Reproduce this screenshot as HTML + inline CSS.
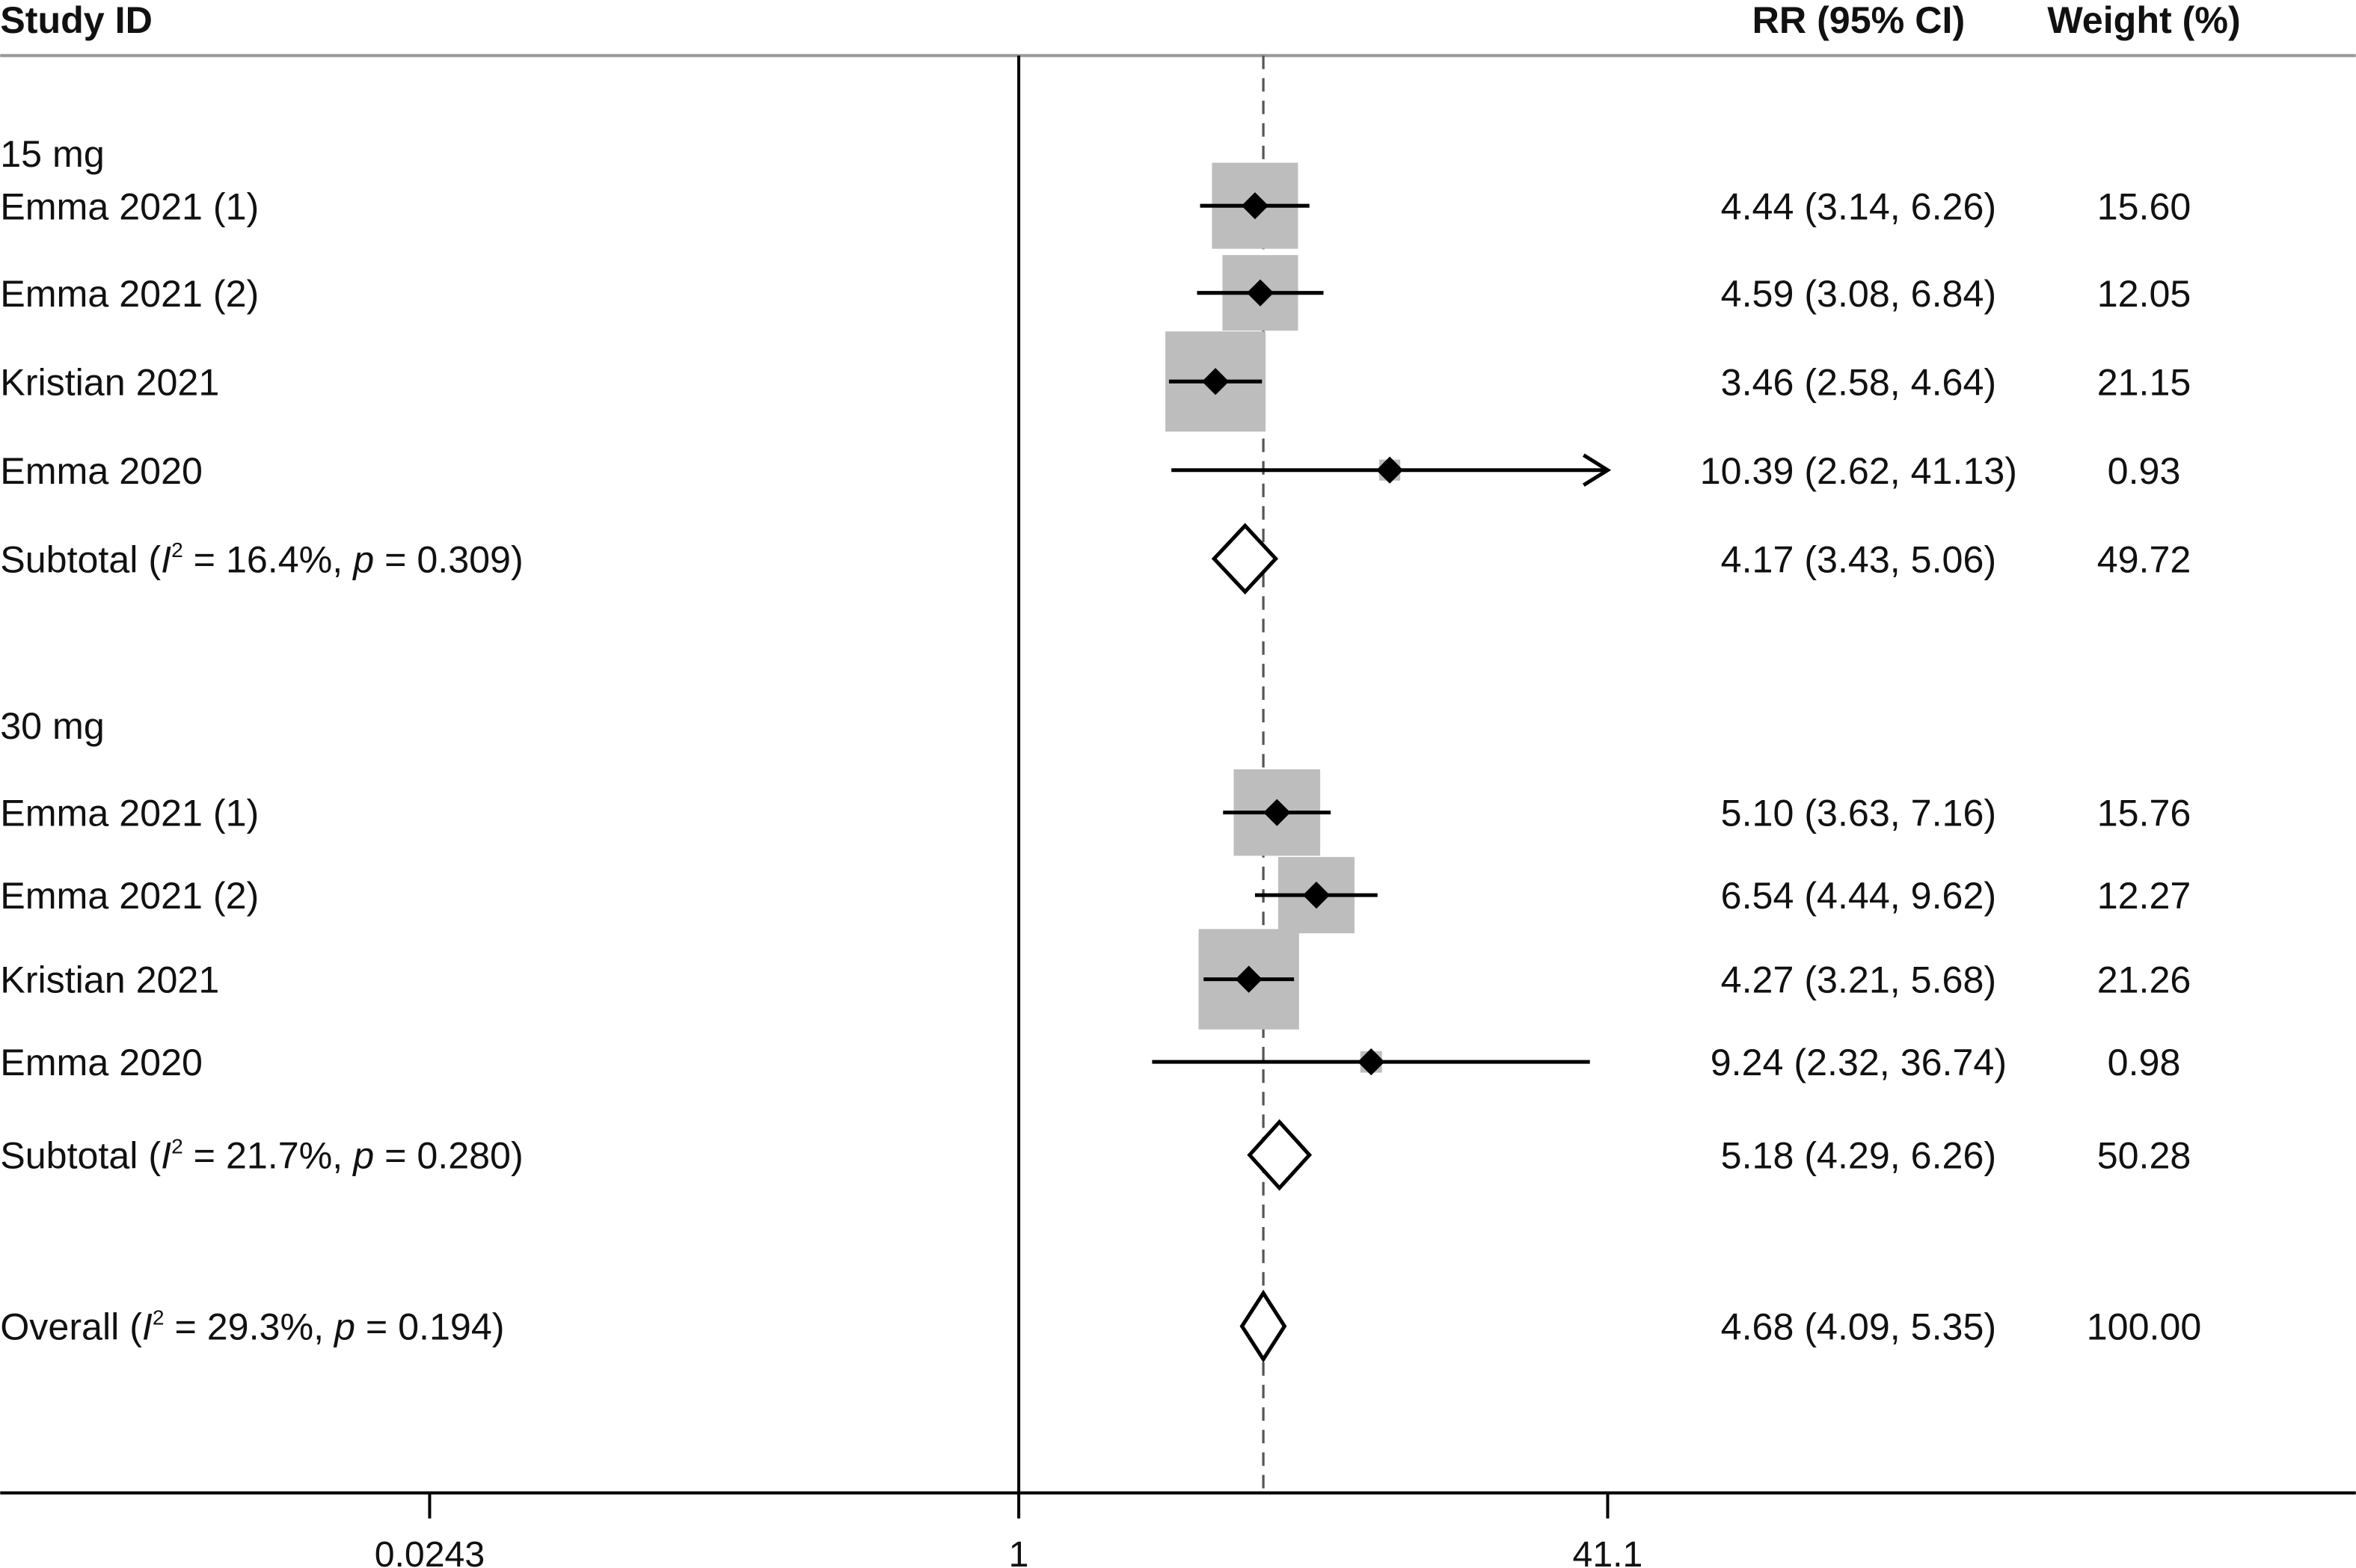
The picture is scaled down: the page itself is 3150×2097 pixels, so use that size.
<!DOCTYPE html>
<html><head><meta charset="utf-8"><style>
html,body{margin:0;padding:0;background:#fff;}
svg{display:block;font-family:"Liberation Sans","DejaVu Sans",sans-serif;}
</style></head><body>
<svg id="chart" width="3150" height="2097" viewBox="0 0 1568 1044" xmlns="http://www.w3.org/2000/svg">
<rect width="1568" height="1044" fill="#fff"/>
<text x="0" y="22" font-size="25" font-weight="bold" fill="#111">Study ID</text>
<text x="1237" y="22" font-size="25" font-weight="bold" text-anchor="middle" fill="#111">RR (95% CI)</text>
<text x="1427" y="22" font-size="25" font-weight="bold" text-anchor="middle" fill="#111">Weight (%)</text>
<line x1="0" y1="37" x2="1568" y2="37" stroke="#999" stroke-width="2"/>
<g id="marks"></g>
<g id="labels"></g>
</svg>
<script>
const labels = ["15 mg","Emma 2021 (1)","Emma 2021 (2)","Kristian 2021","Emma 2020","Subtotal 15","30 mg","Emma 2021 (1)","Emma 2021 (2)","Kristian 2021","Emma 2020","Subtotal 30","Overall"];
const kinds = ["group","study","study","study","study","sub","group","study","study","study","study","sub","sub"];
const rowY = [102,137,195,254,313,372,483,541,596,652,707,769,883];
const rr = [null,4.44,4.59,3.46,10.39,4.17,null,5.10,6.54,4.27,9.24,5.18,4.68];
const lo = [null,3.14,3.08,2.58,2.62,3.43,null,3.63,4.44,3.21,2.32,4.29,4.09];
const hi = [null,6.26,6.84,4.64,41.13,5.06,null,7.16,9.62,5.68,36.74,6.26,5.35];
const weights = [null,15.60,12.05,21.15,0.93,49.72,null,15.76,12.27,21.26,0.98,50.28,100.00];
const stats = [null,null,null,null,null,["16.4%","0.309"],null,null,null,null,null,["21.7%","0.280"],["29.3%","0.194"]];
const tickVals = [0.0243,1,41.1];
const tickLabels = ["0.0243","1","41.1"];
const overallRR = 4.68;

const NS="http://www.w3.org/2000/svg";
const X0=678, PPD=392/Math.log10(41.1), XMAX=1070, XMIN=286;
const xs = v => X0 + Math.log10(v)*PPD;
const marks=document.getElementById('marks'), lab=document.getElementById('labels');
function mk(tag, attrs, parent){const e=document.createElementNS(NS,tag);for(const k in attrs)e.setAttribute(k,attrs[k]);parent.appendChild(e);return e;}

let e;
e=mk('line',{x1:X0,y1:37,x2:X0,y2:994,stroke:'#000','stroke-width':2},marks);


e=mk('line',{x1:xs(overallRR),y1:37,x2:xs(overallRR),y2:994,stroke:'#555','stroke-width':1.6,'stroke-dasharray':'9,6'},marks);


e=mk('line',{x1:0,y1:994,x2:1568,y2:994,stroke:'#000','stroke-width':2},marks);


tickVals.forEach((v,i)=>{
  const t=mk('line',{x1:xs(v),y1:994,x2:xs(v),y2:1011,stroke:'#000','stroke-width':2},marks);
  
  
  const tl=mk('text',{x:xs(v),y:1043,'font-size':24,'text-anchor':'middle',fill:'#111'},lab);
  tl.textContent=tickLabels[i];
  
  
});

labels.forEach((name,i)=>{
  const y=rowY[i];
  const t=mk('text',{x:0,y:y+9,'font-size':25,fill:'#111'},lab);
  
  
  if(kinds[i]==='sub'){
    const pre = i===12?'Overall (':'Subtotal (';
    t.innerHTML = pre+'<tspan font-style="italic">I</tspan><tspan font-size="14" dy="-10">2</tspan><tspan dy="10"> = '+stats[i][0]+', </tspan><tspan font-style="italic">p</tspan> = '+stats[i][1]+')';
  } else t.textContent=name;
  if(rr[i]===null) return;
  const rt=mk('text',{x:1237,y:y+9,'font-size':25,'text-anchor':'middle',fill:'#111'},lab);
  rt.textContent=rr[i].toFixed(2)+' ('+lo[i].toFixed(2)+', '+hi[i].toFixed(2)+')';
  
  
  const wt=mk('text',{x:1427,y:y+9,'font-size':25,'text-anchor':'middle',fill:'#111'},lab);
  wt.textContent=weights[i].toFixed(2);
  
  
  const cx=xs(rr[i]), xl=Math.max(XMIN,xs(lo[i])), xh=Math.min(XMAX,xs(hi[i]));
  if(kinds[i]==='study'){
    const s=14.5*Math.sqrt(weights[i]);
    const b=mk('rect',{x:cx-s/2,y:y-s/2,width:s,height:s,fill:'#bdbdbd'},marks);
    
    
    const l=mk('line',{x1:xl,y1:y,x2:xh,y2:y,stroke:'#000','stroke-width':2.5},marks);
    
    
    if(xs(hi[i])>XMAX){
      const a=mk('path',{d:`M${XMAX-16},${y-10} L${XMAX},${y} L${XMAX-16},${y+10}`,fill:'none',stroke:'#000','stroke-width':2.5},marks);
      
      
    }
    const d=mk('path',{d:`M${cx},${y-9} L${cx+9},${y} L${cx},${y+9} L${cx-9},${y} Z`,fill:'#000'},marks);
    
    
  } else {
    const h=22;
    const d=mk('path',{d:`M${xl},${y} L${cx},${y-h} L${xh},${y} L${cx},${y+h} Z`,fill:'#fff',stroke:'#000','stroke-width':2.5},marks);
    
    
  }
});
</script>
</body></html>
